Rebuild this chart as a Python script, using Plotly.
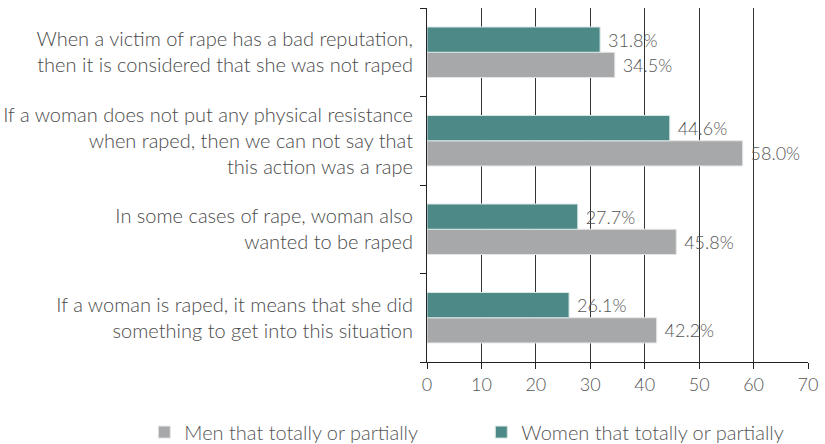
import plotly.graph_objects as go

categories = [
    "If a woman is raped, it means that she did<br>something to get into this situation",
    "In some cases of rape, woman also<br>wanted to be raped",
    "If a woman does not put any physical resistance<br>when raped, then we can not say that<br>this action was a rape",
    "When a victim of rape has a bad reputation,<br>then it is considered that she was not raped",
]
men_values = [42.2, 45.8, 58.0, 34.5]
women_values = [26.1, 27.7, 44.6, 31.8]
series_names = ["Men that totally or partially", "Women that totally or partially"]
x_ticks = [0, 10, 20, 30, 40, 50, 60, 70]

FONT = "Lato Light, Lato"
grey = "#A7A8AA"
teal = "#4D8A87"

fig = go.Figure()
fig.add_trace(go.Bar(
    y=categories, x=men_values, orientation="h", name=series_names[0],
    marker=dict(color=grey, line=dict(color="#E6E6E6", width=1)),
    text=[f" {v:.1f}%" for v in men_values], textposition="outside",
    textfont=dict(family=FONT, size=18, color="#555555", weight=300),
    cliponaxis=False,
))
fig.add_trace(go.Bar(
    y=categories, x=women_values, orientation="h", name=series_names[1],
    marker=dict(color=teal, line=dict(color="#D8E6E5", width=1)),
    text=[f" {v:.1f}%" for v in women_values], textposition="outside",
    textfont=dict(family=FONT, size=18, color="#555555", weight=300),
    cliponaxis=False,
))

fig.update_layout(
    width=825, height=444,
    margin=dict(l=427, r=17, t=8, b=82, autoexpand=False),
    barmode="group", bargap=0.43, bargroupgap=0,
    plot_bgcolor="white", paper_bgcolor="white",
    font=dict(family=FONT, color="#444444", weight=300),
    showlegend=True,
    legend=dict(
        orientation="h", xref="paper", x=-0.742, xanchor="left",
        y=-0.198, yanchor="middle",
        font=dict(family=FONT, size=20, color="#555555", weight=300),
        entrywidth=292, entrywidthmode="pixels",
        traceorder="normal",
    ),
    xaxis=dict(
        range=[0, 70], tickvals=x_ticks, ticktext=[str(t) for t in x_ticks],
        showgrid=True, gridcolor="#333333", gridwidth=1,
        showline=True, linecolor="#222222", linewidth=1,
        ticks="outside", ticklen=6, tickcolor="#222222",
        tickfont=dict(family=FONT, size=18, color="#555555", weight=300),
        zeroline=False, fixedrange=True,
    ),
    yaxis=dict(
        showline=True, linecolor="#222222", linewidth=1,
        ticks="outside", ticklen=6, tickcolor="#222222", tickson="boundaries",
        ticklabelstandoff=9,
        tickfont=dict(family=FONT, size=20, color="#4a4a4a", weight=300),
        showgrid=False, fixedrange=True,
    ),
)

fig.write_html(
    "out.html",
    config={"displayModeBar": False},
    post_script="document.body.style.margin='0';document.body.style.overflow='hidden';",
)
